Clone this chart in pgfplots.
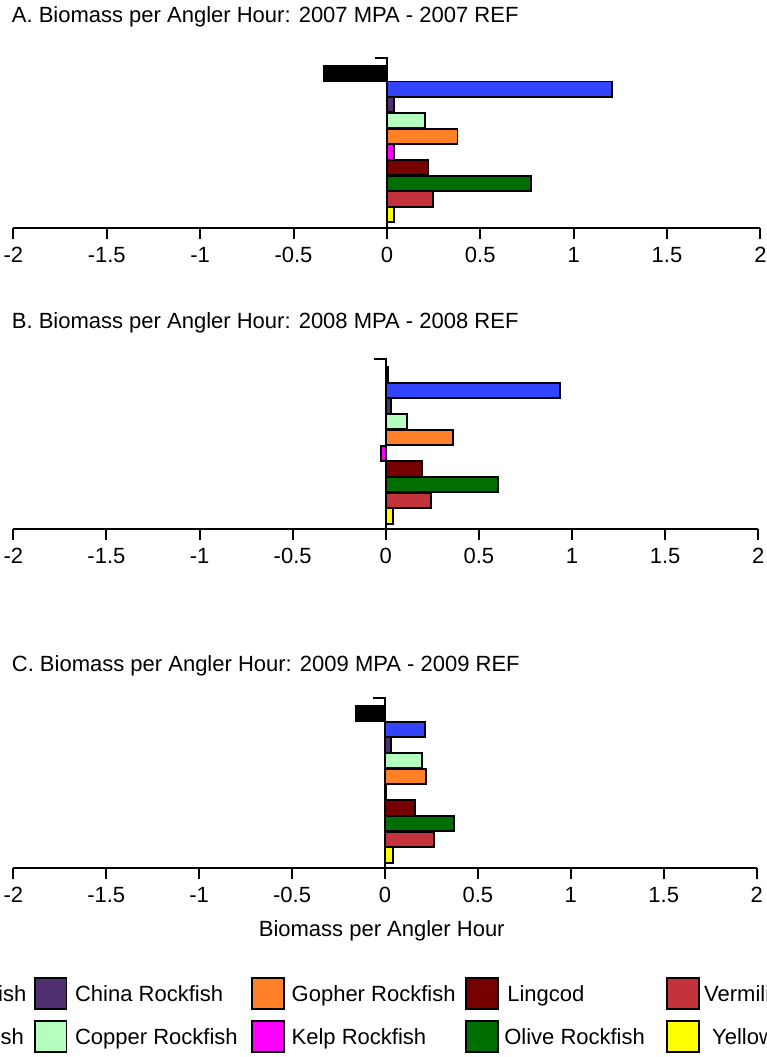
\documentclass[border=0pt]{standalone}
\usepackage{fontspec}
\setmainfont{Liberation Sans}
\usepackage{pgfplots}
\pgfplotsset{compat=1.18}
\definecolor{cBlack}{RGB}{0,0,0}
\definecolor{cBlue}{RGB}{51,68,255}
\definecolor{cChina}{RGB}{80,48,112}
\definecolor{cCopper}{RGB}{180,255,190}
\definecolor{cGopher}{RGB}{255,128,38}
\definecolor{cKelp}{RGB}{255,0,255}
\definecolor{cLing}{RGB}{118,0,0}
\definecolor{cOlive}{RGB}{0,110,0}
\definecolor{cVerm}{RGB}{196,50,60}
\definecolor{cYellow}{RGB}{255,255,0}
\pgfplotsset{
  panel/.style={
    scale only axis, height=170pt,
    xmin=-2, xmax=2, ymin=0.17, ymax=11,
    axis x line=bottom, axis y line=none,
    x axis line style={-, line width=2pt},
    xtick={-2,-1.5,-1,-0.5,0,0.5,1,1.5,2},
    xticklabels={-2,-1.5,-1,-0.5,0,0.5,1,1.5,2},
    tick align=outside, major tick length=11pt,
    x tick style={line width=2pt, black},
    xticklabel style={anchor=north, inner sep=0pt, yshift=-8pt, font=\fontsize{22}{26}\selectfont},
    every axis title/.style={at={(axis description cs:0,1)}, anchor=base west, inner sep=0pt, font=\fontsize{22}{26}\selectfont},
    clip=false,
  },
  sbar/.style={xbar, bar shift=0pt, bar width=0.97, draw=black, line width=1.9pt, fill=#1, forget plot},
}
\newcommand{\yaxisline}{%
  \draw[line width=2pt] (axis cs:0,0.17) -- (axis cs:0,11);
  \draw[line width=2pt] ([xshift=1pt]axis cs:0,11) -- ([xshift=-12pt]axis cs:0,11);}
\begin{document}
\begin{tikzpicture}
\useasboundingbox (0,0) rectangle (767pt,-1057pt);
\clip (0,0) rectangle (767pt,-1057pt);
% Panel A
\begin{axis}[panel, width=747pt, at={(13.4pt,-227.7pt)}, anchor=south west,
  title={A. Biomass per Angler Hour: 2007 MPA - 2007 REF},
  title style={xshift=-1.7pt, yshift=35pt}]
\yaxisline
\addplot[sbar=cBlack]  coordinates {(-0.336,10)};
\addplot[sbar=cBlue]   coordinates {(1.205,9)};
\addplot[sbar=cChina]  coordinates {(0.04,8)};
\addplot[sbar=cCopper] coordinates {(0.202,7)};
\addplot[sbar=cGopher] coordinates {(0.378,6)};
\addplot[sbar=cKelp]   coordinates {(0.04,5)};
\addplot[sbar=cLing]   coordinates {(0.223,4)};
\addplot[sbar=cOlive]  coordinates {(0.772,3)};
\addplot[sbar=cVerm]   coordinates {(0.246,2)};
\addplot[sbar=cYellow] coordinates {(0.04,1)};
\end{axis}
% Panel B
\begin{axis}[panel, width=745pt, at={(13.3pt,-529pt)}, anchor=south west,
  title={B. Biomass per Angler Hour: 2008 MPA - 2008 REF},
  title style={xshift=-1.6pt, yshift=30.7pt}]
\yaxisline
\addplot[sbar=cBlack]  coordinates {(0.012,10)};
\addplot[sbar=cBlue]   coordinates {(0.935,9)};
\addplot[sbar=cChina]  coordinates {(0.028,8)};
\addplot[sbar=cCopper] coordinates {(0.113,7)};
\addplot[sbar=cGopher] coordinates {(0.36,6)};
\addplot[sbar=cKelp]   coordinates {(-0.025,5)};
\addplot[sbar=cLing]   coordinates {(0.196,4)};
\addplot[sbar=cOlive]  coordinates {(0.603,3)};
\addplot[sbar=cVerm]   coordinates {(0.243,2)};
\addplot[sbar=cYellow] coordinates {(0.04,1)};
\end{axis}
% Panel C
\begin{axis}[panel, width=743.4pt, at={(13.3pt,-868pt)}, anchor=south west,
  title={C. Biomass per Angler Hour: 2009 MPA - 2009 REF},
  title style={xshift=-1.6pt, yshift=26.3pt},
  xlabel={Biomass per Angler Hour},
  xlabel style={at={(axis description cs:0.4956,0)}, anchor=base, inner sep=0pt, yshift=-68pt, font=\fontsize{22}{26}\selectfont},
  legend columns=5,
  legend style={at={(axis description cs:0,0)}, anchor=north west, xshift=-177pt, yshift=-109pt,
    draw=none, fill=none, inner sep=0pt, outer sep=0pt, column sep=0pt, row sep=9.7pt,
    font=\fontsize{22}{26}\selectfont, cells={anchor=base west, inner sep=0pt}},
  legend image code/.code={\draw[#1, line width=1.9pt] (0pt,-7pt) rectangle (31.7pt,24pt);}]
\yaxisline
\addplot[sbar=cBlack]  coordinates {(-0.155,10)};
\addplot[sbar=cBlue]   coordinates {(0.213,9)};
\addplot[sbar=cChina]  coordinates {(0.033,8)};
\addplot[sbar=cCopper] coordinates {(0.2,7)};
\addplot[sbar=cGopher] coordinates {(0.222,6)};
\addplot[sbar=cKelp]   coordinates {(0.006,5)};
\addplot[sbar=cLing]   coordinates {(0.16,4)};
\addplot[sbar=cOlive]  coordinates {(0.372,3)};
\addplot[sbar=cVerm]   coordinates {(0.265,2)};
\addplot[sbar=cYellow] coordinates {(0.044,1)};
\addlegendimage{fill=cBlack, draw=black}
\addlegendentry{\makebox[160pt][r]{Black Rockfish\hspace{5.5pt}}}
\addlegendimage{fill=cChina, draw=black}
\addlegendentry{\makebox[180pt][l]{\hspace{5.6pt}China Rockfish}}
\addlegendimage{fill=cGopher, draw=black}
\addlegendentry{\makebox[176pt][l]{\hspace{4.6pt}Gopher Rockfish}}
\addlegendimage{fill=cLing, draw=black}
\addlegendentry{\makebox[163.6pt][l]{\hspace{6.6pt}Lingcod}}
\addlegendimage{fill=cVerm, draw=black}
\addlegendentry{\makebox[150pt][l]{\hspace{2.3pt}Vermilion Rockfish}}
\addlegendimage{fill=cBlue, draw=black}
\addlegendentry{\makebox[160pt][r]{Blue Rockfish\hspace{8pt}}}
\addlegendimage{fill=cCopper, draw=black}
\addlegendentry{\makebox[180pt][l]{\hspace{5.6pt}Copper Rockfish}}
\addlegendimage{fill=cKelp, draw=black}
\addlegendentry{\makebox[176pt][l]{\hspace{4.6pt}Kelp Rockfish}}
\addlegendimage{fill=cOlive, draw=black}
\addlegendentry{\makebox[163.6pt][l]{\hspace{3.6pt}Olive Rockfish}}
\addlegendimage{fill=cYellow, draw=black}
\addlegendentry{\makebox[150pt][l]{\hspace{10.3pt}Yellowtail Rockfish}}
\end{axis}
\end{tikzpicture}
\end{document}
